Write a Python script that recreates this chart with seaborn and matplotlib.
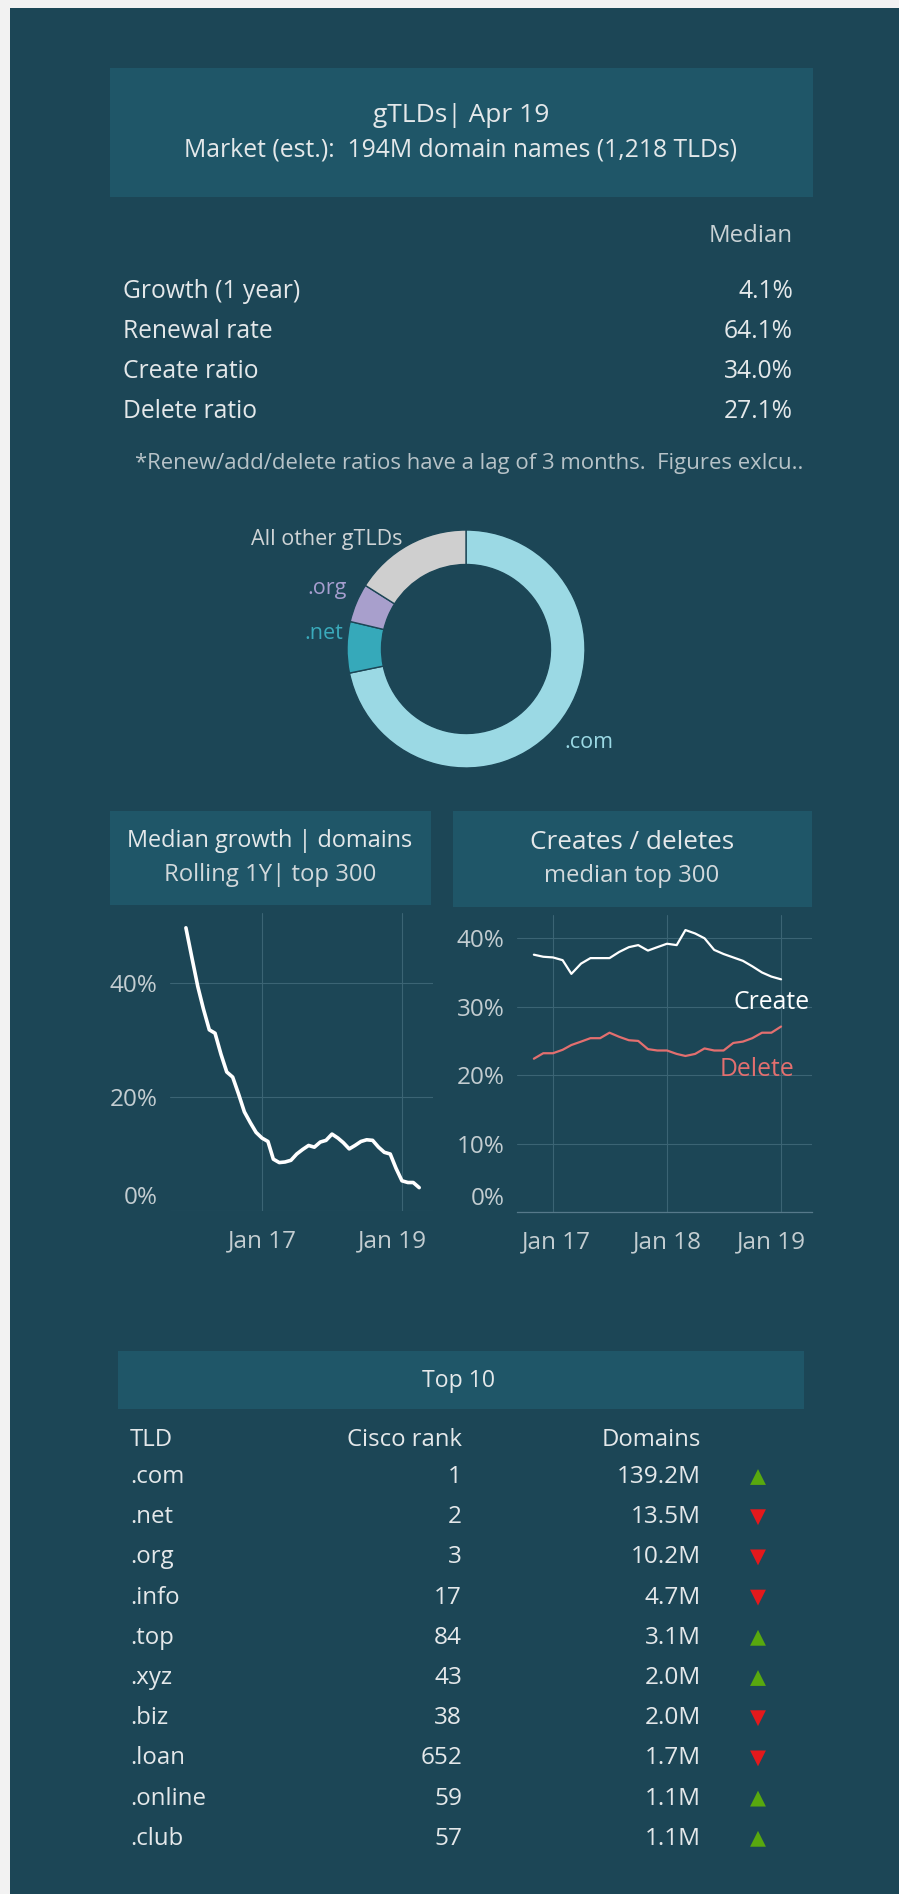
import matplotlib
matplotlib.use("Agg")
import matplotlib.pyplot as plt
import matplotlib.transforms as mtransforms
from matplotlib.patches import Rectangle
import pandas as pd
import seaborn as sns

W, H = 899, 1894
PANEL = "#1c4656"
BOX = "#1f5668"
TXT = "#e4e8ea"
TICK = "#c3cdd1"
GRID = "#3b6474"

# summary block
stat_labels = ["Growth (1 year)", "Renewal rate", "Create ratio", "Delete ratio"]
stat_values = ["4.1%", "64.1%", "34.0%", "27.1%"]

# market share donut (M domains)
share_labels = [".com", ".net", ".org", "All other gTLDs"]
share_values = [139.2, 13.5, 10.2, 31.1]
share_colors = ["#9bd9e4", "#36a9ba", "#a89fcc", "#cfcfcf"]

# median growth, rolling 1Y, monthly from Dec 2015
growth = [49.7, 44.5, 39.4, 35.5, 31.8, 31.2, 27.5, 24.4, 23.5, 20.5, 17.4,
          15.5, 13.8, 12.8, 12.2, 9.1, 8.5, 8.6, 8.9, 10.0, 10.8, 11.5, 11.2,
          12.1, 12.4, 13.5, 12.8, 12.0, 10.9, 11.5, 12.2, 12.5, 12.4, 11.2,
          10.3, 10.0, 7.5, 5.3, 5.0, 5.0, 4.1]
growth_start = "2015-12-01"

# create / delete ratios, monthly from Nov 2016
create = [37.6, 37.3, 37.2, 36.8, 34.8, 36.3, 37.1, 37.1, 37.1, 38.0, 38.7,
          39.0, 38.2, 38.7, 39.2, 39.0, 41.2, 40.7, 40.0, 38.3, 37.7, 37.2,
          36.7, 35.9, 35.0, 34.4, 34.0]
delete = [22.4, 23.2, 23.2, 23.7, 24.4, 24.9, 25.4, 25.4, 26.2, 25.6, 25.1,
          25.0, 23.8, 23.6, 23.6, 23.1, 22.8, 23.1, 23.9, 23.6, 23.6, 24.7,
          24.9, 25.4, 26.2, 26.2, 27.1]
ratio_start = "2016-11-01"

# top 10 table
tld = [".com", ".net", ".org", ".info", ".top", ".xyz", ".biz", ".loan",
       ".online", ".club"]
cisco_rank = [1, 2, 3, 17, 84, 43, 38, 652, 59, 57]
domains = ["139.2M", "13.5M", "10.2M", "4.7M", "3.1M", "2.0M", "2.0M",
           "1.7M", "1.1M", "1.1M"]
trend = ["up", "down", "down", "down", "up", "up", "down", "down", "up", "up"]

sns.set_style("dark")
plt.rcParams["font.family"] = ["Open Sans", "DejaVu Sans"]


def rect(x0, y0, x1, y1):
    return [x0 / W, 1 - y1 / H, (x1 - x0) / W, (y1 - y0) / H]


fig = plt.figure(figsize=(W / 100, H / 100), dpi=100, facecolor="#f2f2f2")

# overlay in pixel coords for background, boxes and text
ov = fig.add_axes([0, 0, 1, 1])
ov.set_xlim(0, W)
ov.set_ylim(H, 0)
ov.axis("off")
ov.add_patch(Rectangle((10, 8), W - 10, H - 8, color=PANEL, lw=0))
for x0, y0, x1, y1 in [(110, 68, 813, 197), (110, 811, 431, 905),
                       (453, 811, 812, 907), (118, 1351, 804, 1409)]:
    ov.add_patch(Rectangle((x0, y0), x1 - x0, y1 - y0, color=BOX, lw=0))

ov.text(461, 115, "gTLDs| Apr 19", ha="center", va="center", fontsize=19, color=TXT)
ov.text(461, 150, "Market (est.):  194M domain names (1,218 TLDs)", ha="center",
        va="center", fontsize=17.8, color=TXT)

ov.text(793, 236, "Median", ha="right", va="center", fontsize=17.3, color="#c9d2d5")
for i, (lab, val) in enumerate(zip(stat_labels, stat_values)):
    y = 291 + 40 * i
    ov.text(123, y, lab, ha="left", va="center", fontsize=17.7, color=TXT)
    ov.text(793, y, val, ha="right", va="center", fontsize=17.7, color=TXT)

ov.text(135, 463, "*Renew/add/delete ratios have a lag of 3 months.  Figures exlcu..",
        ha="left", va="center", fontsize=15.9, color="#b7c3c8")

# donut
axd = fig.add_axes(rect(466 - 119, 649 - 119, 466 + 119, 649 + 119))
axd.pie(share_values, colors=share_colors, startangle=90, counterclock=False,
        radius=1, wedgeprops=dict(width=0.29, edgecolor=PANEL, linewidth=1))
axd.set_xlim(-1, 1)
axd.set_ylim(-1, 1)
axd.set_aspect("equal")
ov.text(327, 539, share_labels[3], ha="center", va="center", fontsize=15.5, color="#cfd4d6")
ov.text(347, 588, share_labels[2], ha="right", va="center", fontsize=15.5, color="#a69ecf")
ov.text(343, 633, share_labels[1], ha="right", va="center", fontsize=15.5, color="#3aaabb")
ov.text(564, 742, share_labels[0], ha="left", va="center", fontsize=15.5, color="#9bd9e4")

# chart headers
ov.text(270, 841, "Median growth | domains", ha="center", va="center", fontsize=16.9, color=TXT)
ov.text(270, 875, "Rolling 1Y| top 300", ha="center", va="center", fontsize=17.2, color="#d2d9dc")
ov.text(632, 842, "Creates / deletes", ha="center", va="center", fontsize=18.8, color=TXT)
ov.text(632, 876, "median top 300", ha="center", va="center", fontsize=17.2, color="#d2d9dc")


def style_line_axes(ax):
    ax.set_facecolor("none")
    for s in ax.spines.values():
        s.set_visible(False)
    ax.grid(True, color=GRID, lw=0.8)
    ax.tick_params(length=0, colors=TICK, labelsize=17.5)
    ax.tick_params(axis="x", pad=13)
    ax.tick_params(axis="y", pad=9)
    ax.set_xlabel("")
    ax.set_ylabel("")


def shift_label(lab, dx, dy):
    lab.set_transform(lab.get_transform() +
                      mtransforms.ScaledTranslation(dx / 100, dy / 100, fig.dpi_scale_trans))


# median growth line
ax1 = fig.add_axes(rect(170, 913, 433, 1211))
df_g = pd.DataFrame({"date": pd.date_range(growth_start, periods=len(growth), freq="MS"),
                     "growth": growth})
sns.lineplot(data=df_g, x="date", y="growth", ax=ax1, color="white", lw=2.6)
ax1.set_ylim(0, 52.3)
ax1.set_xlim(pd.Timestamp("2015-09-09"), pd.Timestamp("2019-06-12"))
ax1.set_yticks([0, 20, 40])
ax1.set_yticklabels(["0%", "20%", "40%"])
ax1.set_xticks([pd.Timestamp("2017-01-01"), pd.Timestamp("2019-01-01")])
ax1.set_xticklabels(["Jan 17", "Jan 19"])
style_line_axes(ax1)
shift_label(ax1.get_yticklabels()[0], 0, 16)
shift_label(ax1.get_xticklabels()[1], -10, 0)

# creates / deletes
ax2 = fig.add_axes(rect(517, 915, 812, 1212))
dates_r = pd.date_range(ratio_start, periods=len(create), freq="MS")
df_r = pd.DataFrame({"date": list(dates_r) * 2,
                     "ratio": create + delete,
                     "kind": ["Create"] * len(create) + ["Delete"] * len(delete)})
sns.lineplot(data=df_r, x="date", y="ratio", hue="kind", ax=ax2,
             palette={"Create": "white", "Delete": "#e36f6f"}, lw=1.6, legend=False)
ax2.set_ylim(0, 43.4)
ax2.set_xlim(pd.Timestamp("2016-09-08"), pd.Timestamp("2019-04-10"))
ax2.set_yticks([0, 10, 20, 30, 40])
ax2.set_yticklabels(["0%", "10%", "20%", "30%", "40%"])
ax2.set_xticks([pd.Timestamp("2017-01-01"), pd.Timestamp("2018-01-01"),
                pd.Timestamp("2019-01-01")])
ax2.set_xticklabels(["Jan 17", "Jan 18", "Jan 19"])
style_line_axes(ax2)
ax2.spines["bottom"].set_visible(True)
ax2.spines["bottom"].set_color("#56798a")
ax2.spines["bottom"].set_linewidth(0.9)
shift_label(ax2.get_yticklabels()[0], 0, 16)
shift_label(ax2.get_xticklabels()[0], 4, 0)
shift_label(ax2.get_xticklabels()[2], -10, 0)
ax2.annotate("Create", (dates_r[-1], create[-1]), xytext=(-7, -17),
             textcoords="offset points", ha="center", va="center", fontsize=17.8, color="white")
ax2.annotate("Delete", (dates_r[-1], delete[-1]), xytext=(-17, -31),
             textcoords="offset points", ha="center", va="center", fontsize=17.8, color="#e36f6f")

# top 10 table
ov.text(459, 1381, "Top 10", ha="center", va="center", fontsize=16.6, color=TXT)
axt = fig.add_axes(rect(118, 1420, 804, 1860))
axt.set_facecolor("none")
row_h = 40.2
hy = (1440 - 1477) / row_h
axt.text(130, hy, "TLD", ha="left", va="center", fontsize=17.2, color=TXT)
axt.text(462, hy, "Cisco rank", ha="right", va="center", fontsize=17.2, color=TXT)
axt.text(701, hy, "Domains", ha="right", va="center", fontsize=17.2, color=TXT)
for i in range(len(tld)):
    axt.text(130, i, tld[i], ha="left", va="center", fontsize=17.3, color=TXT)
    axt.text(462, i, str(cisco_rank[i]), ha="right", va="center", fontsize=17.6, color=TXT)
    axt.text(701, i, domains[i], ha="right", va="center", fontsize=17.6, color=TXT)
df_t = pd.DataFrame({"x": [758] * len(tld), "row": range(len(tld)), "trend": trend})
sns.scatterplot(data=df_t, x="x", y="row", hue="trend", style="trend", ax=axt,
                markers={"up": "^", "down": "v"},
                palette={"up": "#58a80e", "down": "#e3191c"},
                s=130, linewidth=0, legend=False)
axt.set_xlim(118, 804)
axt.set_ylim((1860 - 1477) / row_h, (1420 - 1477) / row_h)
axt.axis("off")

fig.savefig("out.png", dpi=100, facecolor=fig.get_facecolor())
